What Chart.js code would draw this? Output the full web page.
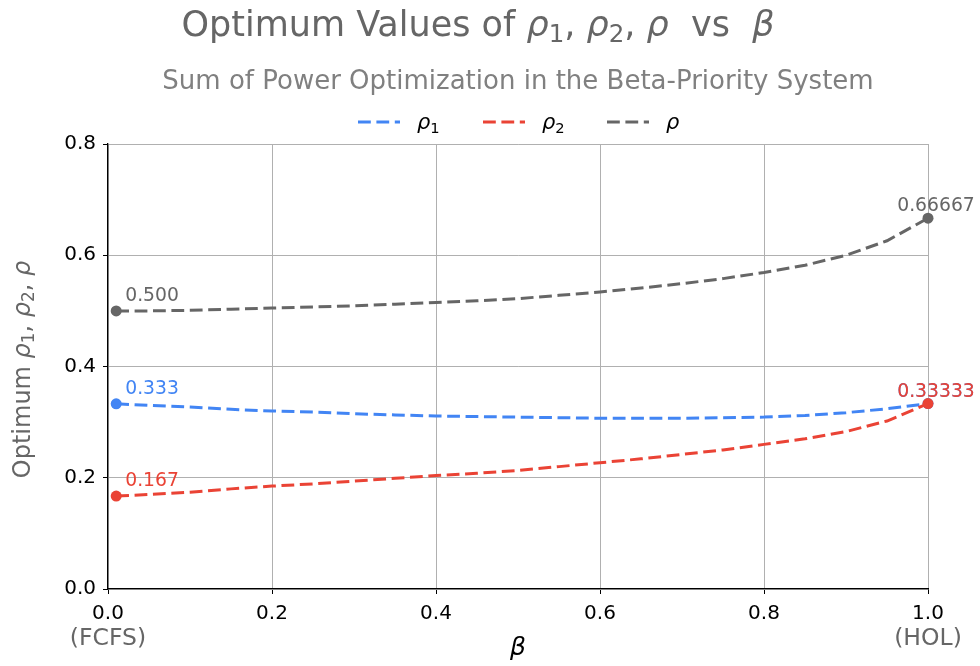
<!DOCTYPE html>
<html>
<head>
<meta charset="utf-8">
<script src="https://cdn.jsdelivr.net/npm/chart.js@4.4.0/dist/chart.umd.min.js"></script>
<style>
  html, body { margin: 0; padding: 0; background: #fff; }
  #wrap { width: 980px; height: 666px; }
</style>
</head>
<body>
<div id="wrap"><canvas id="chart" width="980" height="666"></canvas></div>
<script>
// values
const betaValues = [0.01, 0.05, 0.10, 0.15, 0.20, 0.25, 0.30, 0.35, 0.40, 0.45, 0.50,
                    0.55, 0.60, 0.65, 0.70, 0.75, 0.80, 0.85, 0.90, 0.95, 1.00];
const rho1Values = [0.333, 0.330, 0.327, 0.323, 0.320, 0.318, 0.315, 0.313, 0.311, 0.310, 0.309,
                    0.308, 0.307, 0.307, 0.307, 0.308, 0.309, 0.312, 0.317, 0.324, 0.33333];
const rho2Values = [0.167, 0.170, 0.174, 0.180, 0.185, 0.189, 0.194, 0.199, 0.204, 0.208, 0.213,
                    0.220, 0.227, 0.234, 0.242, 0.250, 0.260, 0.270, 0.283, 0.302, 0.33333];
const rhoValues  = [0.500, 0.500, 0.501, 0.503, 0.505, 0.507, 0.509, 0.512, 0.515, 0.518, 0.522,
                    0.528, 0.534, 0.541, 0.549, 0.558, 0.569, 0.582, 0.600, 0.626, 0.66667];
const xTicks = [0, 0.2, 0.4, 0.6, 0.8, 1.0];
const yTicks = [0, 0.2, 0.4, 0.6, 0.8];

const BLUE = '#4285F4';
const RED = '#EA4335';
const GRAY = '#666666';
const FONT = "'DejaVu Sans', sans-serif";
const DASH = [12.8, 5.6];

function points(values) {
    return betaValues.map((b, i) => ({ x: b, y: values[i] }));
}

function endRadius(n) {
    return betaValues.map((b, i) => (i === 0 || i === n - 1 ? 5.5 : 0));
}

function makeDataset(label, values, color, order) {
    return {
        label: label,
        data: points(values),
        borderColor: color,
        backgroundColor: color,
        borderWidth: 3,
        borderDash: DASH,
        pointRadius: endRadius(values.length),
        pointBorderWidth: 0,
        pointBackgroundColor: color,
        tension: 0,
        clip: false,
        order: order,
    };
}

// a run is [text, kind] with kind 'n' normal, 'i' italic, 's' subscript
function runFont(kind, size) {
    if (kind === 'i') return 'italic ' + size + 'px ' + FONT;
    if (kind === 's') return (size * 0.7) + 'px ' + FONT;
    return size + 'px ' + FONT;
}

function drawRuns(ctx, runs, size, x, y, align) {
    const widths = runs.map(r => {
        ctx.font = runFont(r[1], size);
        return ctx.measureText(r[0]).width;
    });
    const total = widths.reduce((a, b) => a + b, 0);
    let cx = align === 'center' ? x - total / 2 : x;
    ctx.textAlign = 'left';
    runs.forEach((r, i) => {
        ctx.font = runFont(r[1], size);
        ctx.fillText(r[0], cx, r[1] === 's' ? y + size * 0.17 : y);
        cx += widths[i];
    });
}

const rho1Runs = [['ρ', 'i'], ['1', 's']];
const rho2Runs = [['ρ', 'i'], ['2', 's']];
const rhoRuns = [['ρ', 'i']];

const decorPlugin = {
    id: 'decor',
    afterDatasetsDraw(chart) {
        const ctx = chart.ctx;
        ctx.save();
        ctx.font = '18.75px ' + FONT;
        ctx.textBaseline = 'alphabetic';
        const order = [2, 0, 1]; // gray, blue, red on top
        order.forEach(di => {
            const ds = chart.data.datasets[di];
            const meta = chart.getDatasetMeta(di);
            const first = meta.data[0];
            const last = meta.data[meta.data.length - 1];
            const vals = ds.data;
            ctx.fillStyle = ds.borderColor;
            ctx.textAlign = 'left';
            ctx.fillText(vals[0].y.toFixed(3), first.x + 9, first.y - 10);
            ctx.textAlign = 'center';
            ctx.fillText(vals[vals.length - 1].y.toFixed(5), last.x + 8, last.y - 7);
        });
        ctx.restore();
    },
    afterDraw(chart) {
        const ctx = chart.ctx;
        const area = chart.chartArea;
        const midX = (area.left + area.right) / 2;
        ctx.save();
        ctx.textBaseline = 'alphabetic';

        // title
        ctx.fillStyle = GRAY;
        drawRuns(ctx, [['Optimum Values of ', 'n'], ...rho1Runs, [', ', 'n'], ...rho2Runs,
                       [', ', 'n'], ...rhoRuns, ['  vs  ', 'n'], ['β', 'i']], 35, 478, 36, 'center');

        // subtitle
        ctx.fillStyle = '#808080';
        ctx.font = '26px ' + FONT;
        ctx.textAlign = 'center';
        ctx.fillText('Sum of Power Optimization in the Beta-Priority System', midX, 89);

        // legend
        const legendItems = [
            { x: 358, runs: rho1Runs, ds: 0 },
            { x: 483, runs: rho2Runs, ds: 1 },
            { x: 607, runs: rhoRuns, ds: 2 },
        ];
        legendItems.forEach(item => {
            const ds = chart.data.datasets[item.ds];
            ctx.strokeStyle = ds.borderColor;
            ctx.lineWidth = ds.borderWidth;
            ctx.setLineDash(ds.borderDash);
            ctx.beginPath();
            ctx.moveTo(item.x, 122);
            ctx.lineTo(item.x + 42, 122);
            ctx.stroke();
            ctx.setLineDash([]);
            ctx.fillStyle = '#000';
            drawRuns(ctx, item.runs, 21, item.x + 59, 129, 'left');
        });

        // x axis extras
        ctx.fillStyle = GRAY;
        ctx.font = '23.5px ' + FONT;
        ctx.textAlign = 'center';
        const xs = chart.scales.x;
        ctx.fillText('(FCFS)', xs.getPixelForValue(0), 645);
        ctx.fillText('(HOL)', xs.getPixelForValue(1), 645);
        ctx.fillStyle = '#000';
        ctx.font = 'italic 25px ' + FONT;
        ctx.fillText('β', midX, 655);

        // y axis title
        ctx.translate(30, (area.top + area.bottom) / 2 + 3);
        ctx.rotate(-Math.PI / 2);
        ctx.fillStyle = GRAY;
        drawRuns(ctx, [['Optimum ', 'n'], ...rho1Runs, [', ', 'n'], ...rho2Runs,
                       [', ', 'n'], ...rhoRuns], 24, 0, 0, 'center');
        ctx.restore();
    },
};

const chart = new Chart(document.getElementById('chart'), {
    type: 'line',
    data: {
        datasets: [
            makeDataset('ρ₁', rho1Values, BLUE, 2),
            makeDataset('ρ₂', rho2Values, RED, 1),
            makeDataset('ρ', rhoValues, GRAY, 3),
        ],
    },
    options: {
        responsive: false,
        animation: false,
        layout: { padding: { top: 144, right: 52, left: 0, bottom: 0 } },
        plugins: {
            legend: { display: false },
            title: { display: false },
            tooltip: { enabled: false },
        },
        scales: {
            x: {
                type: 'linear',
                min: 0,
                max: 1,
                afterFit(scale) { scale.height = 77; },
                afterBuildTicks(scale) { scale.ticks = xTicks.map(v => ({ value: v })); },
                ticks: {
                    color: '#000',
                    font: { family: FONT, size: 20 },
                    padding: 8,
                    maxRotation: 0,
                    callback: v => v.toFixed(1),
                },
                grid: { color: '#b0b0b0', lineWidth: 1, tickColor: '#000', tickLength: 5 },
                border: { color: '#000', width: 1.3 },
            },
            y: {
                min: 0,
                max: 0.8,
                afterFit(scale) { scale.width = 108; },
                afterBuildTicks(scale) { scale.ticks = yTicks.map(v => ({ value: v })); },
                ticks: {
                    color: '#000',
                    font: { family: FONT, size: 20 },
                    padding: 7,
                    callback: v => v.toFixed(1),
                },
                grid: { color: '#b0b0b0', lineWidth: 1, tickColor: '#000', tickLength: 5 },
                border: { color: '#000', width: 1.3 },
            },
        },
    },
    plugins: [decorPlugin],
});
</script>
</body>
</html>
